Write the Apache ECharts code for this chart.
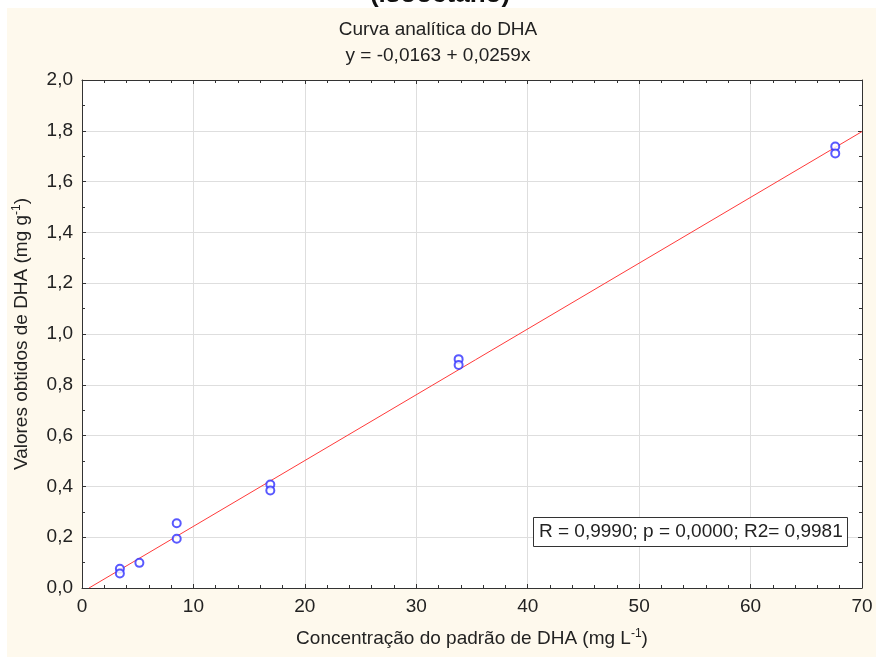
<!DOCTYPE html>
<html>
<head>
<meta charset="utf-8">
<script src="https://cdn.jsdelivr.net/npm/echarts@6/dist/echarts.min.js"></script>
<style>html,body{margin:0;padding:0;background:#fff;}#c{width:876px;height:657px;}</style>
</head>
<body>
<div id="c"></div>
<script>
// Data
var concX = [3.4, 3.4, 5.15, 8.5, 8.5, 16.9, 16.9, 33.8, 33.8, 67.6, 67.6];
var valY  = [0.076, 0.057, 0.099, 0.255, 0.194, 0.407, 0.384, 0.901, 0.878, 1.738, 1.711];
var fitX  = [0.63, 70];
var fitY  = [0, 1.797];
var xTicks = [0, 10, 20, 30, 40, 50, 60, 70];
var yTicks = ['0,0','0,2','0,4','0,6','0,8','1,0','1,2','1,4','1,6','1,8','2,0'];
var statsText = 'R = 0,9990; p = 0,0000; R2= 0,9981';

var FONT = '"Liberation Sans", Arial, sans-serif';
var FS = 19;
var pts = concX.map(function (x, i) { return [x, valY[i]]; });
var line = fitX.map(function (x, i) { return [x, fitY[i]]; });

var chart = echarts.init(document.getElementById('c'), null, {renderer: 'canvas'});
function tick() { return {show: true, inside: true, length: 4, lineStyle: {color: '#333', width: 1}}; }
function minor(n) { return {show: true, splitNumber: n, length: 3, lineStyle: {color: '#333', width: 1}}; }
var axLine = {show: true, onZero: false, lineStyle: {color: '#333', width: 1}};
chart.setOption({
  backgroundColor: '#ffffff',
  animation: false,
  textStyle: {fontFamily: FONT},
  title: [{
    text: 'Curva analítica do DHA',
    subtext: 'y = -0,0163 + 0,0259x',
    left: 'center', top: 15, itemGap: 7,
    textStyle: {fontSize: FS, fontWeight: 'normal', color: '#222', fontFamily: FONT},
    subtextStyle: {fontSize: FS, color: '#222', fontFamily: FONT}
  }, {
    text: statsText,
    left: 533, top: 517,
    padding: [5, 5, 5, 6],
    borderColor: '#333', borderWidth: 1, backgroundColor: '#fff',
    textStyle: {fontSize: FS, fontWeight: 'normal', color: '#222', fontFamily: FONT, lineHeight: 20}
  }],
  graphic: [{
    type: 'rect', z: -100, silent: true,
    shape: {x: 7, y: 8, width: 876, height: 660},
    style: {fill: '#fef9ed'}
  }, {
    type: 'text', z: 100, silent: true,
    x: 440, y: -5,
    style: {text: '(isooctano)', font: 'bold 26px ' + FONT, fill: '#111', align: 'center', verticalAlign: 'middle'}
  }],
  grid: {left: 82, top: 80, right: 14, bottom: 69, show: true, backgroundColor: '#fff', borderWidth: 0},
  xAxis: [{
    type: 'value', min: 0, max: 70, interval: 10, position: 'bottom',
    axisLine: axLine, axisTick: tick(), minorTick: minor(5),
    axisLabel: {fontSize: FS, color: '#222', margin: 9, fontFamily: FONT,
      formatter: function (v) { var i = xTicks.indexOf(v); return i >= 0 ? String(xTicks[i]) : ''; }},
    splitLine: {show: true, lineStyle: {color: '#dedede', width: 1}},
    name: 'Concentração do padrão de DHA (mg L{sup|-1})',
    nameLocation: 'middle', nameGap: 40,
    nameTextStyle: {fontSize: FS, color: '#222', fontFamily: FONT,
      rich: {sup: {fontSize: 12, padding: [0, 0, 10, 0], color: '#222', fontFamily: FONT}}}
  }, {
    type: 'value', min: 0, max: 70, interval: 10, position: 'top',
    axisLine: axLine, axisTick: tick(), minorTick: minor(5),
    axisLabel: {show: false}, splitLine: {show: false}
  }],
  yAxis: [{
    type: 'value', min: 0, max: 2, interval: 0.2, position: 'left',
    axisLine: axLine, axisTick: tick(), minorTick: minor(2),
    axisLabel: {fontSize: FS, color: '#222', margin: 9, fontFamily: FONT,
      formatter: function (v) { return yTicks[Math.round(v / 0.2)] || ''; }},
    splitLine: {show: true, lineStyle: {color: '#dedede', width: 1}},
    name: 'Valores obtidos de DHA (mg g{sup|-1})',
    nameLocation: 'middle', nameGap: 49,
    nameTextStyle: {fontSize: FS, color: '#222', fontFamily: FONT,
      rich: {sup: {fontSize: 12, padding: [0, 0, 10, 0], color: '#222', fontFamily: FONT}}}
  }, {
    type: 'value', min: 0, max: 2, interval: 0.2, position: 'right',
    axisLine: axLine, axisTick: tick(), minorTick: minor(2),
    axisLabel: {show: false}, splitLine: {show: false}
  }],
  series: [{
    type: 'line', data: line, xAxisIndex: 0, yAxisIndex: 0,
    showSymbol: false, symbol: 'none',
    lineStyle: {color: '#ff3a3a', width: 1}, z: 3
  }, {
    type: 'scatter', data: pts, xAxisIndex: 0, yAxisIndex: 0,
    symbol: 'emptyCircle', symbolSize: 8,
    itemStyle: {color: '#2f2fff', borderColor: '#2f2fff', borderWidth: 1}, z: 4
  }]
});
</script>
</body>
</html>
